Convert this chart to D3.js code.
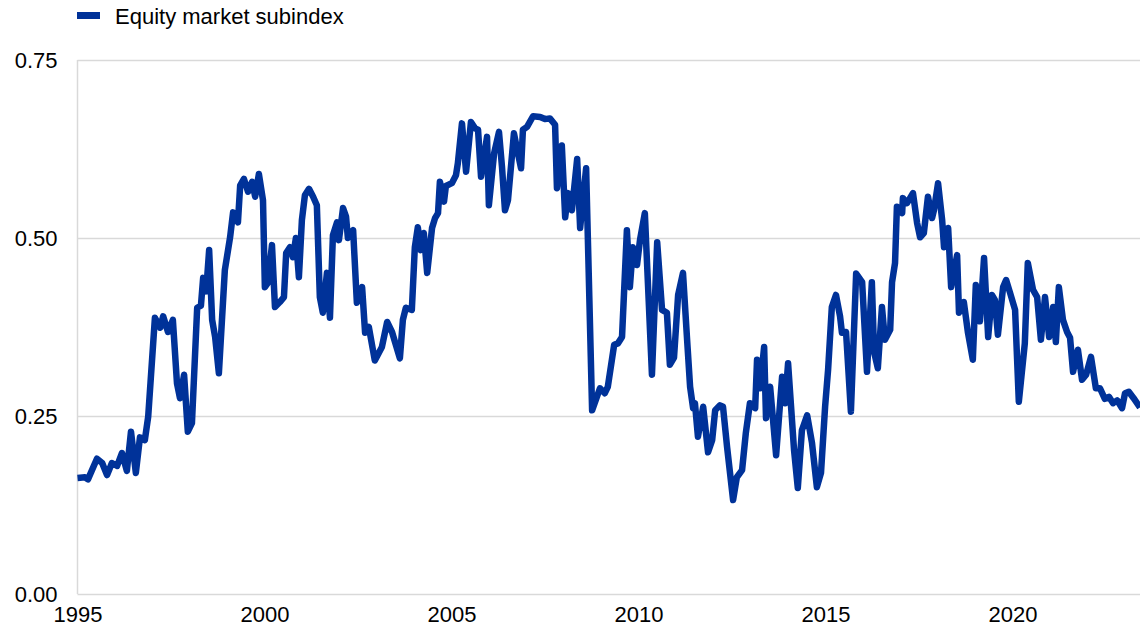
<!DOCTYPE html>
<html lang="en">
<head>
    <meta charset="UTF-8">
    <title>Equity market subindex</title>
    <script src="https://d3js.org/d3.v7.min.js"></script>
    <style>
        body {
            margin: 0;
            background: #fff;
            font-family: 'Liberation Sans', Arial, sans-serif;
        }
        svg { display: block; }
        .tick text { fill: #000; }
    </style>
</head>
<body>
<svg id="chart" width="1140" height="631"></svg>
<script>
    // Decimal year of each observation
    const years = [
        1995.00, 1995.20, 1995.28, 1995.52, 1995.66, 1995.79, 1995.92, 1996.06, 1996.19, 1996.32,
        1996.43, 1996.56, 1996.67, 1996.80, 1996.89, 1997.07, 1997.21, 1997.29, 1997.42, 1997.55,
        1997.66, 1997.74, 1997.85, 1997.95, 1998.06, 1998.20, 1998.30, 1998.36, 1998.44, 1998.52,
        1998.60, 1998.68, 1998.78, 1998.94, 1999.08, 1999.16, 1999.29, 1999.35, 1999.45, 1999.56,
        1999.67, 1999.75, 1999.85, 1999.96, 2000.01, 2000.09, 2000.20, 2000.28, 2000.41, 2000.52,
        2000.58, 2000.68, 2000.76, 2000.84, 2000.92, 2001.00, 2001.08, 2001.19, 2001.30, 2001.40,
        2001.48, 2001.56, 2001.67, 2001.75, 2001.83, 2001.94, 2001.99, 2002.10, 2002.18, 2002.23,
        2002.37, 2002.47, 2002.61, 2002.69, 2002.79, 2002.95, 2003.14, 2003.28, 2003.41, 2003.62,
        2003.70, 2003.78, 2003.94, 2004.02, 2004.10, 2004.18, 2004.26, 2004.35, 2004.48, 2004.56,
        2004.64, 2004.69, 2004.80, 2004.85, 2005.01, 2005.12, 2005.17, 2005.28, 2005.39, 2005.52,
        2005.63, 2005.71, 2005.79, 2005.95, 2006.00, 2006.14, 2006.27, 2006.35, 2006.43, 2006.51,
        2006.67, 2006.75, 2006.86, 2006.91, 2007.02, 2007.18, 2007.37, 2007.50, 2007.63, 2007.77,
        2007.82, 2007.95, 2008.04, 2008.12, 2008.22, 2008.36, 2008.44, 2008.60, 2008.76, 2008.97,
        2009.10, 2009.18, 2009.35, 2009.45, 2009.56, 2009.69, 2009.77, 2009.85, 2009.96, 2010.04,
        2010.17, 2010.36, 2010.50, 2010.63, 2010.76, 2010.84, 2010.95, 2011.06, 2011.19, 2011.30,
        2011.38, 2011.46, 2011.51, 2011.59, 2011.73, 2011.86, 2011.97, 2012.05, 2012.18, 2012.26,
        2012.37, 2012.53, 2012.63, 2012.77, 2012.87, 2012.98, 2013.12, 2013.17, 2013.25, 2013.36,
        2013.41, 2013.52, 2013.68, 2013.84, 2013.92, 2014.00, 2014.16, 2014.26, 2014.37, 2014.51,
        2014.64, 2014.77, 2014.88, 2014.99, 2015.07, 2015.17, 2015.28, 2015.39, 2015.44, 2015.55,
        2015.68, 2015.82, 2015.98, 2016.11, 2016.24, 2016.30, 2016.40, 2016.51, 2016.59, 2016.73,
        2016.78, 2016.86, 2016.91, 2017.05, 2017.07, 2017.18, 2017.34, 2017.45, 2017.53, 2017.63,
        2017.74, 2017.85, 2017.90, 2018.01, 2018.12, 2018.17, 2018.28, 2018.36, 2018.52, 2018.57,
        2018.70, 2018.81, 2018.94, 2019.02, 2019.13, 2019.24, 2019.35, 2019.45, 2019.53, 2019.61,
        2019.75, 2019.83, 2019.93, 2020.07, 2020.17, 2020.33, 2020.41, 2020.55, 2020.66, 2020.76,
        2020.87, 2020.98, 2021.09, 2021.16, 2021.24, 2021.35, 2021.46, 2021.54, 2021.62, 2021.75,
        2021.86, 2021.97, 2022.10, 2022.23, 2022.34, 2022.47, 2022.58, 2022.69, 2022.80, 2022.93,
        2023.01, 2023.11, 2023.24, 2023.41
    ];

    // Equity market subindex values
    const equity = [
        0.163, 0.164, 0.161, 0.190, 0.184, 0.167, 0.184, 0.180, 0.198, 0.173,
        0.228, 0.170, 0.220, 0.216, 0.249, 0.388, 0.374, 0.390, 0.368, 0.385,
        0.296, 0.275, 0.308, 0.228, 0.240, 0.402, 0.405, 0.444, 0.425, 0.483,
        0.385, 0.361, 0.310, 0.455, 0.501, 0.536, 0.522, 0.574, 0.583, 0.565,
        0.579, 0.558, 0.590, 0.553, 0.431, 0.437, 0.490, 0.403, 0.410, 0.417,
        0.479, 0.487, 0.473, 0.500, 0.445, 0.525, 0.560, 0.569, 0.558, 0.546,
        0.417, 0.395, 0.451, 0.388, 0.504, 0.522, 0.497, 0.542, 0.530, 0.500,
        0.511, 0.409, 0.431, 0.367, 0.375, 0.328, 0.347, 0.382, 0.368, 0.331,
        0.385, 0.402, 0.399, 0.487, 0.515, 0.483, 0.507, 0.451, 0.514, 0.528,
        0.535, 0.579, 0.551, 0.573, 0.577, 0.588, 0.605, 0.661, 0.593, 0.663,
        0.654, 0.652, 0.586, 0.642, 0.546, 0.619, 0.649, 0.600, 0.539, 0.553,
        0.647, 0.626, 0.598, 0.652, 0.656, 0.671, 0.670, 0.667, 0.668, 0.659,
        0.570, 0.630, 0.529, 0.563, 0.539, 0.611, 0.514, 0.598, 0.258, 0.289,
        0.282, 0.291, 0.350, 0.352, 0.361, 0.511, 0.431, 0.487, 0.462, 0.497,
        0.535, 0.308, 0.494, 0.399, 0.395, 0.322, 0.332, 0.420, 0.451, 0.357,
        0.291, 0.261, 0.268, 0.221, 0.263, 0.199, 0.216, 0.258, 0.265, 0.263,
        0.206, 0.132, 0.164, 0.174, 0.226, 0.268, 0.261, 0.329, 0.289, 0.347,
        0.247, 0.291, 0.195, 0.305, 0.268, 0.324, 0.202, 0.149, 0.230, 0.251,
        0.212, 0.150, 0.170, 0.263, 0.315, 0.403, 0.420, 0.390, 0.367, 0.368,
        0.256, 0.450, 0.438, 0.312, 0.438, 0.340, 0.317, 0.403, 0.357, 0.371,
        0.438, 0.465, 0.544, 0.535, 0.556, 0.549, 0.563, 0.521, 0.501, 0.507,
        0.558, 0.528, 0.539, 0.577, 0.525, 0.487, 0.514, 0.431, 0.476, 0.395,
        0.410, 0.367, 0.329, 0.434, 0.383, 0.472, 0.361, 0.420, 0.413, 0.364,
        0.431, 0.441, 0.424, 0.399, 0.270, 0.352, 0.465, 0.427, 0.417, 0.357,
        0.417, 0.361, 0.403, 0.354, 0.431, 0.385, 0.368, 0.360, 0.312, 0.343,
        0.301, 0.308, 0.333, 0.289, 0.289, 0.274, 0.277, 0.268, 0.272, 0.261,
        0.282, 0.284, 0.275, 0.262
    ];

    const yTicks = [0, 0.25, 0.5, 0.75];
    const xTicks = [1995, 2000, 2005, 2010, 2015, 2020];
    const seriesName = "Equity market subindex";

    const data = years.map((t, i) => ({ t: t, v: equity[i] }));

    const margin = { top: 60, right: 0, bottom: 37, left: 77.5 };
    const width = 1140, height = 631;
    const fontSize = "22px";
    const svg = d3.select("#chart");

    const x = d3.scaleLinear()
        .domain([1995, 2023.41])
        .range([margin.left, width - margin.right]);

    const y = d3.scaleLinear()
        .domain([0, 0.75])
        .range([height - margin.bottom, margin.top]);

    // horizontal gridlines
    svg.append("g")
        .selectAll("line")
        .data(yTicks)
        .enter()
        .append("line")
        .attr("x1", margin.left)
        .attr("x2", width - margin.right)
        .attr("y1", d => Math.round(y(d)) + 0.5)
        .attr("y2", d => Math.round(y(d)) + 0.5)
        .attr("stroke", "#d9d9d9")
        .attr("stroke-width", 1.5);

    // left axis line
    svg.append("line")
        .attr("x1", margin.left)
        .attr("x2", margin.left)
        .attr("y1", y(0.75))
        .attr("y2", y(0))
        .attr("stroke", "#d9d9d9")
        .attr("stroke-width", 1.5);

    // y axis labels
    const yAxis = svg.append("g")
        .attr("transform", `translate(${margin.left},0)`)
        .call(d3.axisLeft(y).tickValues(yTicks).tickFormat(d3.format(".2f")).tickSize(0).tickPadding(20));
    yAxis.select(".domain").remove();
    yAxis.selectAll("text")
        .style("font-family", "'Liberation Sans', Arial, sans-serif")
        .style("font-size", fontSize);

    // x axis labels
    const xAxis = svg.append("g")
        .attr("transform", `translate(0,${height - margin.bottom})`)
        .call(d3.axisBottom(x).tickValues(xTicks).tickFormat(d3.format("d")).tickSize(0).tickPadding(12));
    xAxis.select(".domain").remove();
    xAxis.selectAll("text")
        .style("font-family", "'Liberation Sans', Arial, sans-serif")
        .style("font-size", fontSize);

    // the line
    const line = d3.line()
        .x(d => x(d.t))
        .y(d => y(d.v));

    svg.append("path")
        .datum(data)
        .attr("fill", "none")
        .attr("stroke", "#003299")
        .attr("stroke-width", 6.5)
        .attr("stroke-linejoin", "round")
        .attr("stroke-linecap", "butt")
        .attr("d", line);

    // legend
    const legend = svg.append("g").attr("transform", "translate(77,12)");
    legend.append("rect")
        .attr("width", 23)
        .attr("height", 7)
        .attr("fill", "#003299");
    legend.append("text")
        .attr("x", 38)
        .attr("y", 4)
        .attr("dy", "0.35em")
        .style("font-family", "'Liberation Sans', Arial, sans-serif")
        .style("font-size", fontSize)
        .attr("fill", "#000")
        .text(seriesName);
</script>
</body>
</html>
